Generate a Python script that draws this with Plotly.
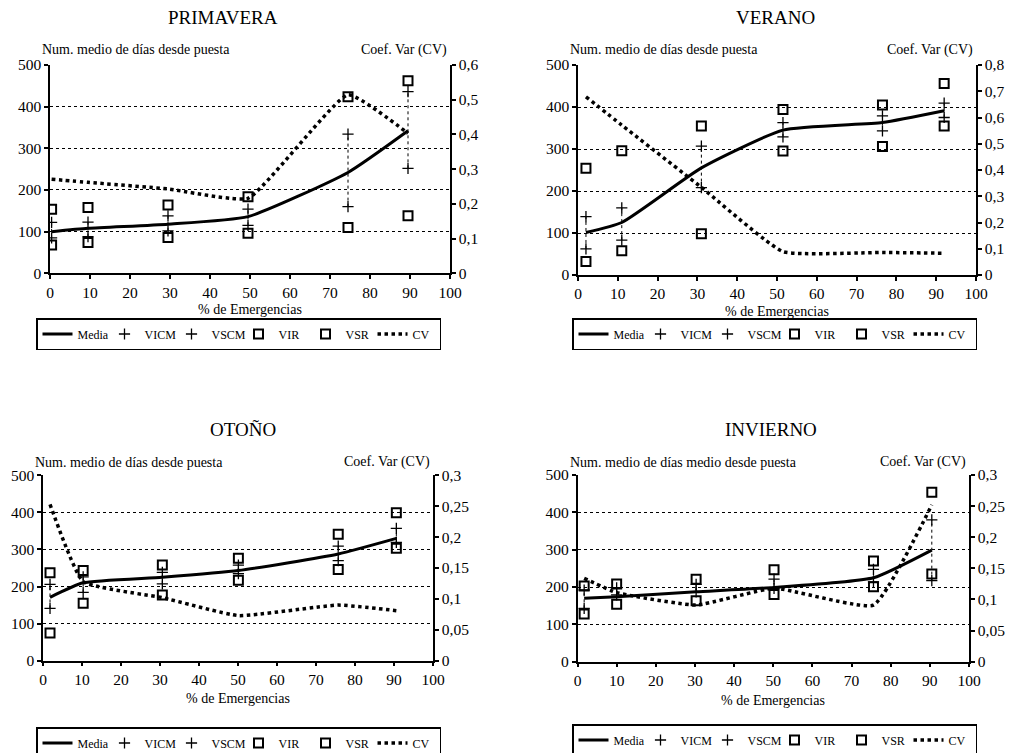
import plotly.graph_objects as go

# ---------------- DATA ----------------
seasons = ["PRIMAVERA", "VERANO", "OTOÑO", "INVIERNO"]
y_titles = ["Num. medio de días desde puesta", "Num. medio de días desde puesta",
            "Num. medio de días desde puesta", "Num. medio de días medio desde puesta"]
cv_title = "Coef. Var (CV)"
x_title = "% de Emergencias"

prim_x = [0.4, 9.5, 29.5, 49.5, 74.5, 89.5]
prim_media = [100, 108, 118, 136, 242, 342]
prim_vicm = [85, 88, 102, 115, 160, 252]
prim_vscm = [122, 123, 138, 154, 334, 436]
prim_vir = [68, 74, 86, 96, 110, 138]
prim_vsr = [154, 158, 164, 184, 424, 462]
prim_cv = [0.271, 0.262, 0.243, 0.216, 0.514, 0.403]

ver_x = [2, 11, 31, 51.5, 76.5, 92]
ver_media = [101, 125, 255, 345, 363, 391]
ver_vicm = [62, 83, 208, 329, 343, 375]
ver_vscm = [139, 160, 307, 363, 379, 409]
ver_vir = [32, 58, 98, 295, 306, 355]
ver_vsr = [254, 296, 355, 394, 405, 456]
ver_cv = [0.679, 0.571, 0.334, 0.089, 0.086, 0.083]

oto_x = [1.8, 10.3, 30.6, 50.1, 75.7, 90.6]
oto_media = [171, 210, 225, 243, 288, 330]
oto_vicm = [141, 184, 207, 235, 270, 319]
oto_vscm = [206, 226, 238, 258, 309, 357]
oto_vir = [75, 155, 177, 217, 246, 303]
oto_vsr = [237, 243, 258, 276, 341, 399]
oto_cv = [0.253, 0.128, 0.102, 0.073, 0.090, 0.081]

inv_x = [1.7, 10, 30.3, 50.2, 75.6, 90.5]
inv_media = [170, 174, 187, 199, 225, 299]
inv_vicm = [143, 179, 187, 196, 214, 217]
inv_vscm = [192, 198, 207, 221, 247, 380]
inv_vir = [128, 154, 163, 180, 201, 235]
inv_vsr = [203, 208, 221, 246, 270, 454]
inv_cv = [0.134, 0.111, 0.091, 0.118, 0.091, 0.252]

cv_max = [0.6, 0.8, 0.3, 0.3]
cv_step = [0.1, 0.1, 0.05, 0.05]

# ---------------- LAYOUT HELPERS ----------------
W, H = 1013, 753
OFF = 8  # page body margin
FONT = "Liberation Serif"

def px(x):
    return (x - OFF) / W

def py(y):
    return 1 - (y - OFF) / H

# plot boxes in screen pixels: (left, right, top, bottom)
boxes = [(50, 450, 65, 273.3), (578, 976, 65, 275),
         (43, 433, 475.3, 660.7), (577.5, 969, 475, 661.7)]
title_pos = [(223, 18), (775, 18), (243, 430), (771, 430)]
ytitle_y = [50, 50, 462, 462]
xtitle_y = [309, 311, 698, 700]
legend_pos = [(36, 318), (572, 318), (36, 727), (572, 724)]

data = [
    (prim_x, prim_media, prim_vicm, prim_vscm, prim_vir, prim_vsr, prim_cv),
    (ver_x, ver_media, ver_vicm, ver_vscm, ver_vir, ver_vsr, ver_cv),
    (oto_x, oto_media, oto_vicm, oto_vscm, oto_vir, oto_vsr, oto_cv),
    (inv_x, inv_media, inv_vicm, inv_vscm, inv_vir, inv_vsr, inv_cv),
]

fig = go.Figure()
annotations = []
layout = {}

for i, (xs, media, vicm, vscm, vir, vsr, cv) in enumerate(data):
    k = i + 1
    xa = "x" if k == 1 else f"x{k}"
    yl = "y" if k == 1 else f"y{2 * k - 1}"
    yr = f"y{2 * k}"
    lg = "legend" if k == 1 else f"legend{k}"

    # connectors between VICM and VSCM
    cx, cy = [], []
    for xv, a, b in zip(xs, vicm, vscm):
        cx += [xv, xv, None]
        cy += [a, b, None]
    fig.add_trace(go.Scatter(x=cx, y=cy, mode="lines", xaxis=xa, yaxis=yl,
                             line=dict(color="black", width=1, dash="dot"),
                             showlegend=False, hoverinfo="skip", legend=lg))
    fig.add_trace(go.Scatter(x=xs, y=media, mode="lines", name="Media", xaxis=xa, yaxis=yl,
                             line=dict(color="black", width=3, shape="spline", smoothing=0.5),
                             legend=lg))
    for nm, vals in (("VICM", vicm), ("VSCM", vscm)):
        fig.add_trace(go.Scatter(x=xs, y=vals, mode="markers", name=nm, xaxis=xa, yaxis=yl,
                                 marker=dict(symbol="cross-thin", size=8, color="black",
                                             line=dict(color="black", width=1.3)),
                                 legend=lg))
    for nm, vals in (("VIR", vir), ("VSR", vsr)):
        fig.add_trace(go.Scatter(x=xs, y=vals, mode="markers", name=nm, xaxis=xa, yaxis=yl,
                                 marker=dict(symbol="square-open", size=9, color="black",
                                             line=dict(color="black", width=2)),
                                 legend=lg))
    fig.add_trace(go.Scatter(x=xs, y=cv, mode="lines", name="CV", xaxis=xa, yaxis=yr,
                             line=dict(color="black", width=3.5, dash="dot",
                                       shape="spline", smoothing=0.4),
                             legend=lg))

    l, r, t, b = boxes[i]
    axis_common = dict(showline=True, linecolor="black", linewidth=1.5,
                       ticks="outside", ticklen=4, tickcolor="black", tickwidth=1.5,
                       tickfont=dict(family=FONT, size=15.5, color="black"),
                       zeroline=False)
    layout["xaxis" if k == 1 else f"xaxis{k}"] = dict(
        domain=[px(l), px(r)], range=[0, 100], dtick=10, anchor=yl, showgrid=False,
        **axis_common)
    layout["yaxis" if k == 1 else f"yaxis{2 * k - 1}"] = dict(
        domain=[py(b), py(t)], range=[0, 500], dtick=100, anchor=xa,
        showgrid=True, gridcolor="black", gridwidth=1, griddash="dot",
        **axis_common)
    layout[f"yaxis{2 * k}"] = dict(
        domain=[py(b), py(t)], range=[0, cv_max[i]], dtick=cv_step[i], anchor=xa,
        overlaying=yl, side="right", showgrid=False, **axis_common)

    lx, ly = legend_pos[i]
    layout[lg] = dict(x=px(lx), y=py(ly), xanchor="left", yanchor="top",
                      orientation="h", bordercolor="black", borderwidth=1.5,
                      bgcolor="white", font=dict(family=FONT, size=12, color="black"),
                      entrywidth=22, entrywidthmode="pixels", itemwidth=30,
                      tracegroupgap=0)

    tx, ty = title_pos[i]
    annotations.append(dict(x=px(tx), y=py(ty), xref="paper", yref="paper",
                            text=seasons[i], showarrow=False, xanchor="center",
                            yanchor="middle", font=dict(family=FONT, size=19, color="black")))
    annotations.append(dict(x=px(l - 10), y=py(ytitle_y[i]), xref="paper", yref="paper",
                            text=y_titles[i], showarrow=False, xanchor="left",
                            yanchor="middle", font=dict(family=FONT, size=14, color="black")))
    annotations.append(dict(x=px(r - 1), y=py(ytitle_y[i]), xref="paper", yref="paper",
                            text=cv_title, showarrow=False, xanchor="right",
                            yanchor="middle", font=dict(family=FONT, size=14, color="black")))
    annotations.append(dict(x=px((l + r) / 2), y=py(xtitle_y[i]), xref="paper", yref="paper",
                            text=x_title, showarrow=False, xanchor="center",
                            yanchor="middle", font=dict(family=FONT, size=14, color="black")))

fig.update_layout(
    width=W, height=H, margin=dict(l=0, r=0, t=0, b=0, autoexpand=False),
    paper_bgcolor="white", plot_bgcolor="white",
    separators=",.", annotations=annotations,
    font=dict(family=FONT, color="black"),
    **layout,
)

fig.write_html("out.html")
